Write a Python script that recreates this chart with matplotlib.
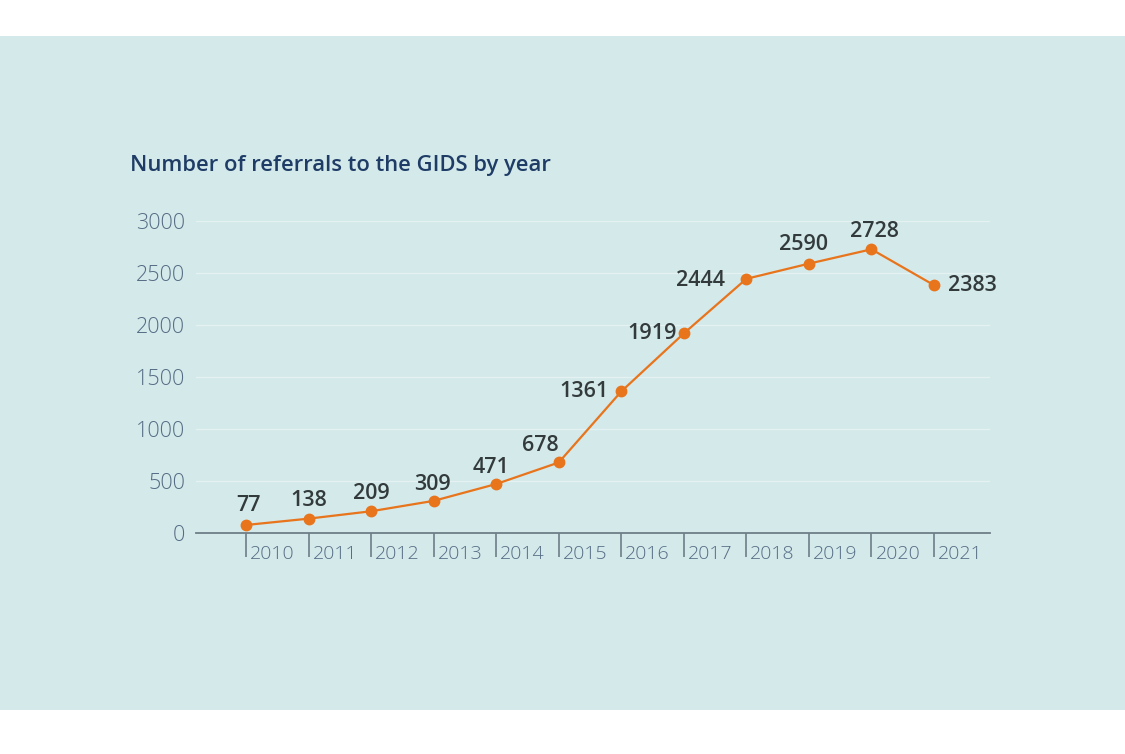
import matplotlib
matplotlib.use("Agg")
import matplotlib.pyplot as plt
from matplotlib.patches import Rectangle
from matplotlib.transforms import ScaledTranslation

years = [2010, 2011, 2012, 2013, 2014, 2015, 2016, 2017, 2018, 2019, 2020, 2021]
referrals = [77, 138, 209, 309, 471, 678, 1361, 1919, 2444, 2590, 2728, 2383]
y_ticks = [0, 500, 1000, 1500, 2000, 2500, 3000]
title = "Number of referrals to the GIDS by year"

# label offsets (points) for value annotations, text centred
label_offsets = [(2, 14), (0, 13), (0, 13), (-1, 12), (-4, 12), (-13, 12),
                 (-27, 0), (-23, 0), (-33, -1), (-4, 14), (2, 13), (28, 0)]

W, H = 1125, 754
fig = plt.figure(figsize=(W / 100, H / 100), dpi=100)
fig.patch.set_facecolor("white")
bg = "#d3e9ea"
fig.patches.append(Rectangle((0, 1 - 710 / H), 1, (710 - 36) / H,
                             transform=fig.transFigure, facecolor=bg,
                             edgecolor="none", zorder=-5))

font = "Open Sans"
left_px, right_px = 196, 990
ax = fig.add_axes([left_px / W, 1 - 533 / H, (right_px - left_px) / W, (533 - 221) / H])
ax.set_zorder(5)
ax.set_facecolor("none")

pxyr = (934 - 246) / 11
ax.set_xlim(2010 - (246 - left_px) / pxyr, 2021 + (right_px - 934) / pxyr)
ax.set_ylim(0, 3000)

for s in ["top", "right", "left"]:
    ax.spines[s].set_visible(False)
ax.spines["bottom"].set_color("#6f7e88")
ax.spines["bottom"].set_linewidth(1.3)

for yv in y_ticks[1:]:
    ax.axhline(yv, color="#e4f2f2", lw=1.0, zorder=1)

ax.plot(years, referrals, color="#e8741c", lw=1.6, marker="o", markersize=7.5,
        zorder=3, clip_on=False)

for x, v, off in zip(years, referrals, label_offsets):
    ax.annotate(str(v), (x, v), xytext=off, textcoords="offset points",
                ha="center", va="center",
                fontsize=15.5, fontfamily=font, fontweight="semibold",
                color="#333a3c", zorder=4)

ax.set_yticks(y_ticks)
ax.set_yticklabels([str(t) for t in y_ticks])
ax.tick_params(axis="y", length=0, pad=8, labelsize=15.5, labelcolor="#566c84")
for lab in ax.get_yticklabels():
    lab.set_fontfamily(font)
    lab.set_fontweight("light")

ax.set_xticks(years)
ax.set_xticklabels([str(y) for y in years])
ax.tick_params(axis="x", direction="out", length=17, width=1.2, color="#6f7e88",
               pad=-8.6, labelsize=14, labelcolor="#566c84")
offset = ScaledTranslation(4 / 100, 0, fig.dpi_scale_trans)
for lab in ax.get_xticklabels():
    lab.set_ha("left")
    lab.set_fontfamily(font)
    lab.set_fontweight("light")
    lab.set_transform(lab.get_transform() + offset)

fig.text(130 / W, 1 - 165 / H, title, ha="left", va="center", fontsize=15.8,
         fontfamily=font, fontweight="semibold", color="#1f3c66")

fig.savefig("out.png", dpi=100, facecolor=fig.get_facecolor())
